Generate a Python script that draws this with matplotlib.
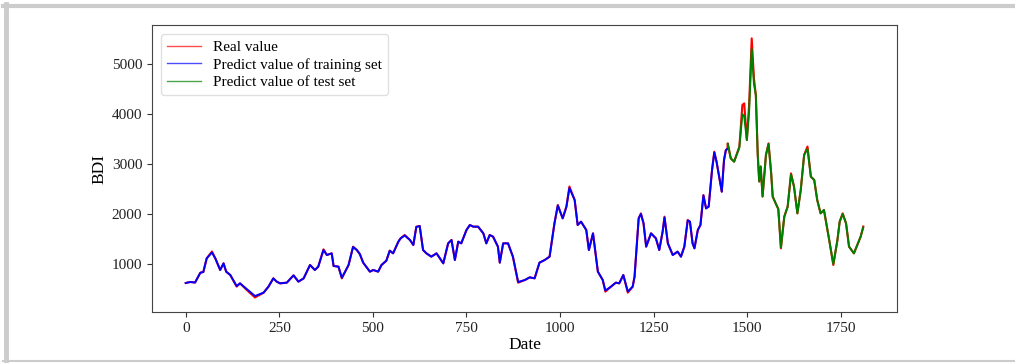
import matplotlib
matplotlib.use('Agg')
import matplotlib.pyplot as plt
from matplotlib.lines import Line2D

plt.rcParams['font.family'] = ['Liberation Serif', 'DejaVu Serif']

# training part of the BDI series (day index, real value, model prediction)
train_days = [0, 12, 25, 39, 47, 56, 70, 79, 92, 101,
              108, 119, 136, 145, 163, 185, 208, 221, 234, 243,
              252, 270, 288, 301, 315, 332, 345, 354, 368, 377,
              390, 395, 408, 417, 435, 447, 457, 465, 474, 492,
              501, 514, 523, 536, 545, 554, 568, 574, 585, 599,
              608, 616, 625, 634, 643, 656, 670, 688, 701, 710,
              719, 728, 736, 750, 759, 768, 781, 795, 803, 812,
              821, 834, 839, 848, 861, 874, 888, 906, 919, 932,
              945, 959, 972, 985, 994, 1007, 1017, 1025, 1039, 1047,
              1056, 1070, 1077, 1088, 1101, 1114, 1121, 1136, 1149, 1158,
              1169, 1181, 1194, 1199, 1210, 1216, 1223, 1230, 1243, 1256,
              1265, 1274, 1279, 1288, 1301, 1314, 1323, 1332, 1341, 1347,
              1354, 1359, 1368, 1375, 1383, 1390, 1397, 1406, 1412, 1418,
              1425, 1432, 1438, 1443, 1447]
train_real = [620, 640, 630, 826, 840, 1113, 1250, 1113, 880, 1013,
              847, 780, 547, 613, 480, 330, 427, 547, 713, 647,
              613, 627, 773, 647, 713, 980, 880, 947, 1293, 1180,
              1213, 960, 947, 713, 980, 1347, 1280, 1200, 1027, 847,
              880, 847, 980, 1067, 1267, 1213, 1447, 1513, 1580, 1480,
              1380, 1747, 1760, 1280, 1213, 1147, 1213, 1013, 1413, 1480,
              1080, 1447, 1413, 1680, 1780, 1747, 1747, 1613, 1413, 1580,
              1547, 1347, 1027, 1413, 1413, 1147, 627, 680, 733, 713,
              1027, 1080, 1147, 1813, 2180, 1913, 2147, 2550, 2280, 1780,
              1847, 1680, 1280, 1613, 847, 680, 447, 547, 627, 613,
              780, 427, 547, 747, 1913, 2013, 1813, 1347, 1613, 1513,
              1280, 1647, 1947, 1413, 1180, 1247, 1147, 1347, 1880, 1847,
              1413, 1313, 1680, 1780, 2380, 2113, 2147, 2880, 3247, 3047,
              2747, 2447, 3080, 3280, 3300]
train_pred = [620, 640, 630, 826, 840, 1113, 1230, 1113, 880, 1013,
              847, 780, 560, 613, 500, 360, 427, 547, 713, 647,
              613, 627, 773, 647, 713, 980, 880, 947, 1280, 1180,
              1213, 960, 947, 725, 980, 1340, 1280, 1200, 1027, 847,
              880, 847, 980, 1067, 1267, 1213, 1447, 1513, 1570, 1480,
              1380, 1740, 1760, 1280, 1213, 1147, 1213, 1013, 1413, 1480,
              1080, 1447, 1413, 1680, 1780, 1747, 1747, 1613, 1413, 1580,
              1547, 1347, 1027, 1413, 1413, 1147, 640, 680, 733, 713,
              1027, 1080, 1147, 1813, 2170, 1913, 2147, 2520, 2280, 1780,
              1847, 1680, 1280, 1613, 847, 680, 470, 547, 627, 613,
              780, 450, 547, 747, 1913, 2000, 1813, 1347, 1613, 1513,
              1280, 1647, 1930, 1413, 1180, 1247, 1147, 1347, 1870, 1847,
              1413, 1313, 1680, 1780, 2370, 2113, 2147, 2880, 3230, 3047,
              2747, 2447, 3080, 3280, 3300]

# test part of the series
test_days = [1448, 1456, 1465, 1479, 1487, 1492, 1499, 1505, 1512, 1518,
             1523, 1528, 1532, 1536, 1541, 1550, 1557, 1564, 1568, 1576,
             1583, 1590, 1599, 1608, 1617, 1625, 1634, 1643, 1652, 1661,
             1670, 1679, 1687, 1696, 1705, 1719, 1730, 1741, 1747, 1755,
             1764, 1772, 1785, 1794, 1803, 1810]
test_real = [3413, 3113, 3047, 3347, 4180, 4213, 3480, 4180, 5513, 4713,
             4380, 3200, 2650, 2950, 2350, 3180, 3413, 2813, 2350, 2213,
             2100, 1313, 1947, 2147, 2813, 2547, 2013, 2480, 3180, 3350,
             2747, 2680, 2280, 2013, 2080, 1480, 980, 1480, 1847, 2013,
             1813, 1347, 1213, 1380, 1547, 1750]
test_pred = [3400, 3113, 3047, 3330, 4000, 3950, 3480, 4050, 5300, 4600,
             4380, 3200, 2650, 2950, 2350, 3180, 3400, 2813, 2350, 2213,
             2100, 1330, 1947, 2147, 2790, 2547, 2013, 2480, 3180, 3300,
             2747, 2680, 2280, 2013, 2080, 1480, 1000, 1480, 1847, 2000,
             1813, 1347, 1213, 1380, 1547, 1730]

fig = plt.figure(figsize=(10.15, 3.63), dpi=100)
ax = fig.add_axes([0.1498, 0.1405, 0.7339, 0.7906])

ax.plot(train_days + test_days, train_real + test_real, color='red', lw=1.5, label='Real value')
ax.plot(train_days, train_pred, color='blue', lw=1.4, label='Predict value of training set')
ax.plot(test_days, test_pred, color='green', lw=1.4, label='Predict value of test set')

ax.set_xlim(-90, 1900)
ax.set_ylim(40, 5780)
ax.set_xticks([0, 250, 500, 750, 1000, 1250, 1500, 1750])
ax.set_yticks([1000, 2000, 3000, 4000, 5000])
ax.tick_params(labelsize=11, colors='#333333', labelcolor='#222222')
for s in ax.spines.values():
    s.set_color('#444444')
ax.set_xlabel('Date', fontsize=12.5, labelpad=2)
ax.set_ylabel('BDI', fontsize=12.5, labelpad=3)
leg = ax.legend(loc='upper left', fontsize=11, framealpha=0.9, edgecolor='#dddddd',
                handlelength=2.2, borderpad=0.4, labelspacing=0.25,
                borderaxespad=0.6)
for h in leg.get_lines():
    h.set_linewidth(1.0)
    h.set_alpha(0.7)

# grey page frame around the figure
fig.add_artist(Line2D([3 / 1015, 1], [1 - 6 / 363, 1 - 6 / 363], transform=fig.transFigure,
                      color='#cccccc', lw=3))
fig.add_artist(Line2D([5.5 / 1015, 5.5 / 1015], [1 - 4 / 363, 1 - 361 / 363], transform=fig.transFigure,
                      color='#cccccc', lw=3.5))
fig.add_artist(Line2D([3 / 1015, 1], [1 - 361 / 363, 1 - 361 / 363], transform=fig.transFigure,
                      color='#cccccc', lw=1.5))

fig.savefig('out.png', dpi=100)
